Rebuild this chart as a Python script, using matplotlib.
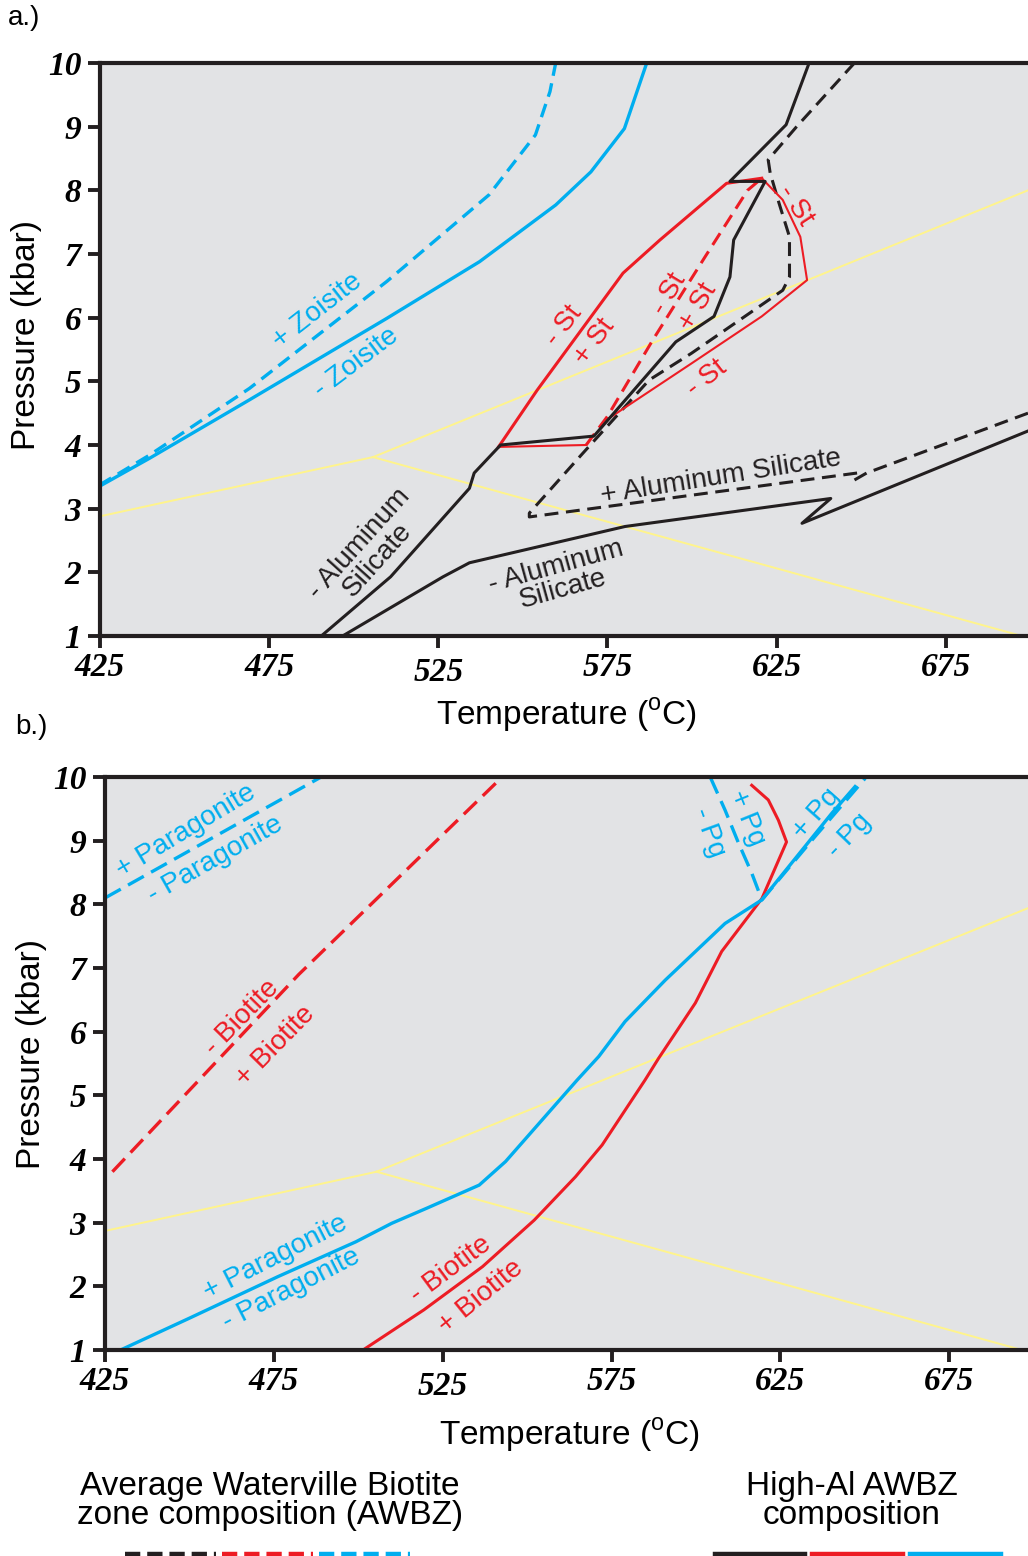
"""P-T phase diagram, two panels (AWBZ vs High-Al AWBZ compositions)."""
import matplotlib

matplotlib.use("Agg")
import matplotlib.pyplot as plt
from matplotlib.lines import Line2D
from matplotlib.transforms import ScaledTranslation

plt.rcParams["font.family"] = ["Liberation Sans", "DejaVu Sans"]
plt.rcParams["mathtext.fontset"] = "custom"
plt.rcParams["mathtext.rm"] = "Liberation Sans"
plt.rcParams["lines.scale_dashes"] = False

BLUE = "#00aeef"
RED = "#ed1c24"
BLACK = "#231f20"
YELLOW = "#fff48c"
BG = "#e2e3e5"

T_TICKS = [425, 475, 525, 575, 625, 675]
P_TICKS = [1, 2, 3, 4, 5, 6, 7, 8, 9, 10]

# ---- panel a data (T in degC, P in kbar) ----
alsi_tp_a = (505.7, 3.81)               # aluminosilicate triple point
alsi_ends_a_T = [425.0, 699.3, 697.5]
alsi_ends_a_P = [2.88, 8.00, 1.00]

zo_av_T = [424.8, 439.6, 469.2, 509.8, 540.0, 553.7, 558.0, 559.7]
zo_av_P = [3.37, 3.84, 4.89, 6.57, 7.93, 8.87, 9.55, 10.0]
zo_hi_T = [424.8, 439.6, 469.2, 509.8, 537.2, 559.7, 570.1, 580.0, 586.6]
zo_hi_P = [3.35, 3.79, 4.71, 5.99, 6.88, 7.77, 8.29, 8.97, 10.0]

st_hi_T = [542.8, 554.2, 579.6, 590.5, 610.2, 620.6]
st_hi_P = [3.97, 4.86, 6.70, 7.22, 8.11, 8.19]
st_hi_loop_T = [620.6, 626.8, 632.0, 634.0, 620.6, 599.8, 579.1, 575.5]
st_hi_loop_P = [8.19, 7.85, 7.27, 6.59, 6.02, 5.28, 4.55, 4.42]
st_hi_base_T = [542.8, 568.7]
st_hi_base_P = [3.97, 4.00]
st_av_T = [568.7, 575.0, 588.4, 603.9, 616.4, 620.6]
st_av_P = [4.00, 4.45, 5.65, 6.96, 8.00, 8.19]

as_hi_T = [490.4, 510.9, 534.2, 535.6, 543.4, 571.0, 595.2, 606.5, 611.2,
           612.3, 621.6, 611.2, 627.8, 634.6]
as_hi_P = [1.00, 1.93, 3.32, 3.56, 4.00, 4.14, 5.62, 6.02, 6.64,
           7.22, 8.14, 8.14, 9.03, 10.0]
as_hi_low_T = [496.7, 526.4, 534.2, 580.2, 641.0, 632.5, 699.3]
as_hi_low_P = [1.00, 1.93, 2.15, 2.72, 3.16, 2.77, 4.22]
as_av_T = [699.3, 651.6, 648.0, 648.8, 551.9, 551.9, 567.2, 587.3, 599.8,
           626.8, 628.8, 628.8, 625.7, 623.1, 622.5, 630.9, 648.0]
as_av_P = [4.50, 3.56, 3.45, 3.56, 2.87, 2.93, 3.84, 5.02, 5.44,
           6.43, 6.64, 7.27, 7.80, 8.27, 8.48, 9.00, 10.0]

# ---- panel b data ----
alsi_tp_b = (505.4, 3.80)
alsi_ends_b_T = [425.0, 698.3, 696.5]
alsi_ends_b_P = [2.87, 7.94, 1.00]

pg_av_T = [425.0, 489.0]
pg_av_P = [8.10, 10.0]
pg_av_v_T = [604.2, 608.6, 612.6, 616.5, 619.5, 635.0, 650.1]
pg_av_v_P = [10.0, 9.48, 8.96, 8.49, 8.07, 9.05, 9.98]
pg_hi_T = [429.6, 449.6, 476.1, 499.3, 509.9, 520.4, 535.8, 543.6, 564.8,
           571.2, 579.0, 590.9, 608.6, 619.5, 640.2, 647.1]
pg_hi_P = [1.00, 1.49, 2.15, 2.70, 2.99, 3.23, 3.59, 3.96, 5.24,
           5.61, 6.16, 6.81, 7.70, 8.07, 9.43, 9.85]

bt_av_T = [427.2, 482.4, 542.6]
bt_av_P = [3.80, 6.90, 10.0]
bt_hi_T = [501.4, 519.4, 536.8, 552.1, 564.3, 572.2, 584.9, 588.9, 599.8,
           607.6, 619.5, 626.8, 624.4, 621.4, 616.5]
bt_hi_P = [1.00, 1.63, 2.31, 3.04, 3.72, 4.22, 5.24, 5.58, 6.45,
           7.26, 8.09, 8.98, 9.32, 9.64, 9.87]

DASH = (10, 5.5)
DASH_B = (13, 6)


def alsi(ax, tp, ends_T, ends_P):
    for t, p in zip(ends_T, ends_P):
        ax.plot([t, tp[0]], [p, tp[1]], color=YELLOW, lw=1.4, zorder=1)


def lab(ax, t, p, s, rot, color, size=20, ls=0.9):
    ax.text(t, p, s, rotation=rot, rotation_mode="anchor", ha="center",
            va="center", color=color, fontsize=size, linespacing=ls,
            multialignment="center")


def style(ax, xmax, fig, ylab_xy, xlab_y):
    ax.set_facecolor(BG)
    ax.set_xlim(425, xmax)
    ax.set_ylim(1, 10)
    tick_font = dict(fontfamily="Liberation Serif", fontweight="bold",
                     fontstyle="italic", fontsize=24)
    ax.set_xticks(T_TICKS, labels=[str(t) for t in T_TICKS], **tick_font)
    ax.set_yticks(P_TICKS, labels=[str(p) for p in P_TICKS], **tick_font)
    for s in ("left", "bottom", "top"):
        ax.spines[s].set_linewidth(3)
        ax.spines[s].set_color(BLACK)
    ax.spines["right"].set_visible(False)
    ax.tick_params(direction="out", length=8.5, width=2.8, color=BLACK)
    ax.tick_params(axis="x", pad=3)
    ax.tick_params(axis="y", pad=5)
    ax.set_xlabel("Temperature ($^{\\mathrm{o}}$C)", fontsize=24)
    ax.set_ylabel("Pressure (kbar)", fontsize=24)
    ax.xaxis.set_label_coords(0.503, xlab_y)
    ax.yaxis.set_label_coords(*ylab_xy)
    # 525 label sits a little lower in the original
    tk = ax.xaxis.get_major_ticks()[2]
    tk.label1.set_transform(tk.label1.get_transform()
                            + ScaledTranslation(0, -0.05, fig.dpi_scale_trans))


fig = plt.figure(figsize=(10.28, 15.56), dpi=100)

# ---------------- panel a ----------------
ax = fig.add_axes([100 / 1028, 1 - 636 / 1556, 928 / 1028, 573 / 1556])
alsi(ax, alsi_tp_a, alsi_ends_a_T, alsi_ends_a_P)
ax.plot(zo_av_T, zo_av_P, color=BLUE, lw=2.4, dashes=DASH)
ax.plot(zo_hi_T, zo_hi_P, color=BLUE, lw=2.4)
ax.plot(as_av_T, as_av_P, color=BLACK, lw=2.2, dashes=DASH)
ax.plot(st_hi_loop_T, st_hi_loop_P, color=RED, lw=1.5)
ax.plot(st_hi_base_T, st_hi_base_P, color=RED, lw=1.5)
ax.plot(st_av_T, st_av_P, color=RED, lw=2.2, dashes=DASH)
ax.plot(st_hi_T, st_hi_P, color=RED, lw=2.2)
ax.plot(as_hi_T, as_hi_P, color=BLACK, lw=2.2)
ax.plot(as_hi_low_T, as_hi_low_P, color=BLACK, lw=2.2)

lab(ax, 489.1, 6.10, "+ Zoisite", 38, BLUE)
lab(ax, 500.6, 5.29, "- Zoisite", 37, BLUE)
lab(ax, 562.2, 5.87, "- St", 52, RED)
lab(ax, 571.2, 5.62, "+ St", 53, RED)
lab(ax, 593.1, 6.38, "- St", 59, RED)
lab(ax, 601.8, 6.17, "+ St", 59, RED)
lab(ax, 630.7, 7.77, "- St", -57, RED)
lab(ax, 604.4, 5.05, "- St", 38, RED)
lab(ax, 608.6, 3.50, "+ Aluminum Silicate", 9, BLACK)
lab(ax, 504.3, 2.32, "- Aluminum\nSilicate", 48, BLACK)
lab(ax, 560.8, 1.91, "- Aluminum\nSilicate", 15.5, BLACK)
style(ax, 699.3, fig, (-0.062, 0.525), -0.106)

# ---------------- panel b ----------------
ax = fig.add_axes([105 / 1028, 1 - 1350 / 1556, 923 / 1028, 573 / 1556])
alsi(ax, alsi_tp_b, alsi_ends_b_T, alsi_ends_b_P)
ax.plot(pg_av_T, pg_av_P, color=BLUE, lw=2.4, dashes=DASH_B)
ax.plot(bt_av_T, bt_av_P, color=RED, lw=2.4, dashes=DASH_B)
ax.plot(bt_hi_T, bt_hi_P, color=RED, lw=2.2)
ax.plot(pg_av_v_T, pg_av_v_P, color=BLUE, lw=2.4, dashes=DASH_B)
ax.plot(pg_hi_T, pg_hi_P, color=BLUE, lw=2.4)

lab(ax, 448.9, 9.15, "+ Paragonite", 31, BLUE)
lab(ax, 457.7, 8.71, "- Paragonite", 29.5, BLUE)
lab(ax, 465.6, 6.22, "- Biotite", 45.5, RED)
lab(ax, 475.5, 5.78, "+ Biotite", 45.5, RED)
lab(ax, 475.5, 2.45, "+ Paragonite", 27, BLUE)
lab(ax, 480.3, 1.96, "- Paragonite", 27, BLUE)
lab(ax, 527.3, 2.27, "- Biotite", 36.5, RED)
lab(ax, 536.2, 1.84, "+ Biotite", 39, RED)
lab(ax, 615.2, 9.36, "+ Pg", -68, BLUE)
lab(ax, 603.8, 9.13, "- Pg", -70, BLUE)
lab(ax, 635.7, 9.42, "+ Pg", 48.5, BLUE)
lab(ax, 645.5, 9.08, "- Pg", 46, BLUE)
style(ax, 698.3, fig, (-0.063, 0.517), -0.115)

# ---------------- panel tags and key ----------------
fig.text(8 / 1028, 1 - 18 / 1556, "a.)", fontsize=20, va="center")
fig.text(15 / 1028, 1 - 727 / 1556, "b.)", fontsize=20, va="center")

fig.text(270 / 1028, 1 - 1501 / 1556,
         "Average Waterville Biotite\nzone composition (AWBZ)",
         ha="center", va="center", fontsize=24, linespacing=0.9)
fig.text(852 / 1028, 1 - 1501 / 1556, "High-Al AWBZ\ncomposition",
         ha="center", va="center", fontsize=24, linespacing=0.9)

key_y = 1 - 1554 / 1556
for x0, x1, c, dashed in [(125, 216, BLACK, True), (222, 313, RED, True),
                          (319, 410, BLUE, True), (715, 805, BLACK, False),
                          (812, 903, RED, False), (910, 1001, BLUE, False)]:
    kw = dict(dashes=(11, 5)) if dashed else {}
    fig.add_artist(Line2D([x0 / 1028, x1 / 1028], [key_y, key_y],
                          transform=fig.transFigure, color=c, lw=3.2, **kw))

fig.savefig("out.png", dpi=100)
